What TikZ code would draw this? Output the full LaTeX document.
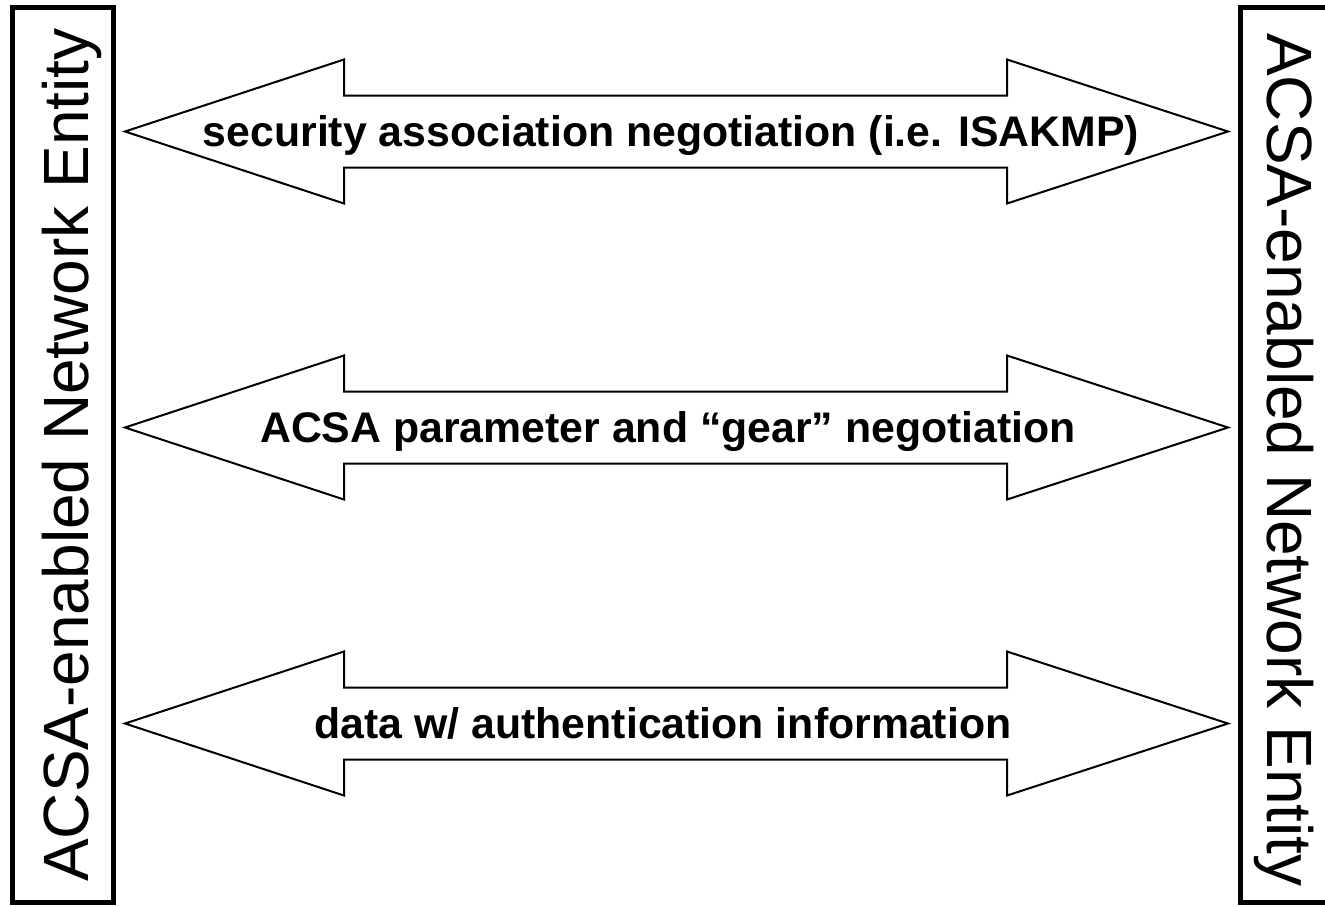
\documentclass[tikz,border=0pt]{standalone}
\usepackage{fontspec}
\setmainfont{Liberation Sans}
\begin{document}
\begin{tikzpicture}[x=0.5pt,y=-0.5pt,
  entitybox/.style={draw, line width=2.5pt, inner sep=0pt, minimum width=50.5pt, minimum height=447.5pt},
  bigarrow/.style={draw, line width=1pt, line join=miter},
  msglabel/.style={font=\bfseries\fontsize{21.4pt}{24pt}\selectfont, anchor=base, inner sep=0pt},
  entitytext/.style={font=\fontsize{32pt}{36pt}\selectfont, anchor=base, inner sep=0pt},
  dblarrow/.pic={\draw[bigarrow] (-551.5,0) -- (-332.5,-72) -- (-332.5,-36) -- (330.5,-36) -- (330.5,-72) -- (551.5,0) -- (330.5,72) -- (330.5,36) -- (-332.5,36) -- (-332.5,72) -- cycle;}]
\useasboundingbox (0,0) rectangle (1325,906);
\clip (0,0) rectangle (1325,906);
\node[entitybox] (left) at (62.5,454.5) {};
\node[entitybox] (right) at (1290.5,455) {};
\node[entitytext, rotate=90] (lefttext) at (88,455) {ACSA-enabled Network Entity};
\node[entitytext, rotate=-90] (righttext) at (1267,460) {ACSA-enabled Network Entity};
\pic at (676.5,131.5) {dblarrow};
\pic at (676.5,427.5) {dblarrow};
\pic at (676.5,723.5) {dblarrow};
\node[msglabel] (sa) at (671,146.5) {security association negotiation (i.e. ISAKMP)};
\node[msglabel] (gear) at (668,442.5) {ACSA parameter and “gear” negotiation};
\node[msglabel] (data) at (663,738.5) {data w/ authentication information};
\end{tikzpicture}
\end{document}
